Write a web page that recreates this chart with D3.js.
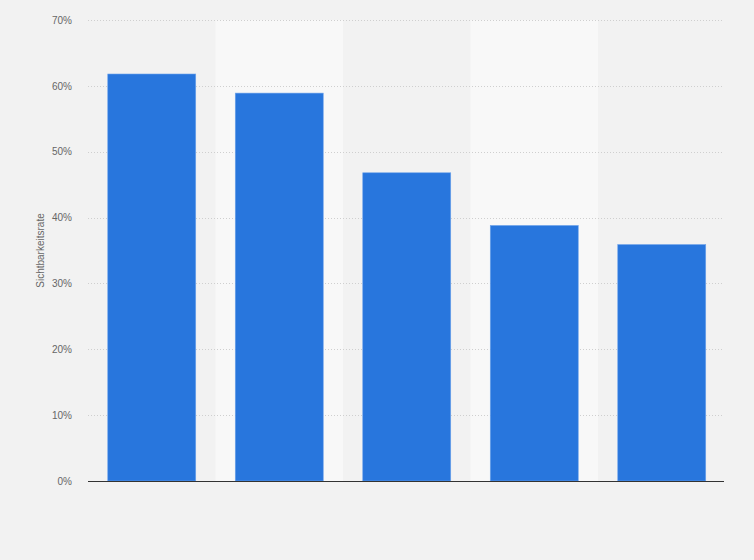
<!DOCTYPE html>
<html>
<head>
<meta charset="utf-8">
<script src="https://cdn.jsdelivr.net/npm/d3@7"></script>
<style>
  html, body { margin: 0; padding: 0; background: #f2f2f2; }
  svg { display: block; font-family: "Liberation Sans", Arial, sans-serif; }
</style>
</head>
<body>
<script>
// categories have no visible labels in the source picture
const categories = ["A", "B", "C", "D", "E"];
const values = [61.8, 58.9, 46.8, 38.8, 35.9];
const yTicks = [0, 10, 20, 30, 40, 50, 60, 70];
const yTitle = "Sichtbarkeitsrate";

const width = 754, height = 560;
const margin = { top: 20, right: 28.5, bottom: 79, left: 88 };
const innerW = width - margin.left - margin.right;
const innerH = height - margin.top - margin.bottom;

const svg = d3.select("body").append("svg")
  .attr("width", width)
  .attr("height", height);

svg.append("rect")
  .attr("width", width)
  .attr("height", height)
  .attr("fill", "#f2f2f2");

const g = svg.append("g")
  .attr("transform", `translate(${margin.left},${margin.top})`);

const x = d3.scaleBand()
  .domain(categories)
  .range([0, innerW])
  .paddingInner(0.31)
  .paddingOuter(0.155);

const y = d3.scaleLinear()
  .domain([0, 70])
  .range([innerH, 0]);

// alternating column bands
g.selectAll(".band")
  .data(categories.filter((d, i) => i % 2 === 1))
  .join("rect")
  .attr("class", "band")
  .attr("x", d => x(d) - x.step() * x.paddingInner() / 2)
  .attr("y", 0)
  .attr("width", x.step())
  .attr("height", innerH)
  .attr("fill", "#f8f8f8");

// grid lines
const gridEnd = 636;
g.selectAll(".grid")
  .data(yTicks.filter(d => d > 0))
  .join("line")
  .attr("class", "grid")
  .attr("x1", 0)
  .attr("x2", gridEnd)
  .attr("y1", d => Math.round(y(d)) + 0.5)
  .attr("y2", d => Math.round(y(d)) + 0.5)
  .style("stroke", "#cfcfcf")
  .style("stroke-width", 1)
  .style("stroke-dasharray", "1,2");

// y axis labels
const yAxis = g.append("g")
  .call(d3.axisLeft(y).tickValues(yTicks).tickFormat(d => d + "%").tickSize(0).tickPadding(16));
yAxis.select(".domain").remove();
yAxis.selectAll("text")
  .style("font-size", "10px")
  .style("fill", "#666");

// bars
g.selectAll(".bar")
  .data(values)
  .join("rect")
  .attr("class", "bar")
  .attr("x", (d, i) => x(categories[i]))
  .attr("y", d => y(d))
  .attr("width", x.bandwidth())
  .attr("height", d => innerH - y(d))
  .attr("fill", "#2876dd")
  .style("stroke", "#6ea3ea")
  .style("stroke-width", 0.6);

// baseline
g.append("line")
  .attr("x1", 0)
  .attr("x2", gridEnd)
  .attr("y1", innerH + 0.5)
  .attr("y2", innerH + 0.5)
  .style("stroke", "#333")
  .style("stroke-width", 1.2);

// y title
svg.append("text")
  .attr("transform", `translate(44,${margin.top + innerH / 2}) rotate(-90)`)
  .attr("text-anchor", "middle")
  .style("font-size", "10px")
  .style("fill", "#666")
  .text(yTitle);
</script>
</body>
</html>
